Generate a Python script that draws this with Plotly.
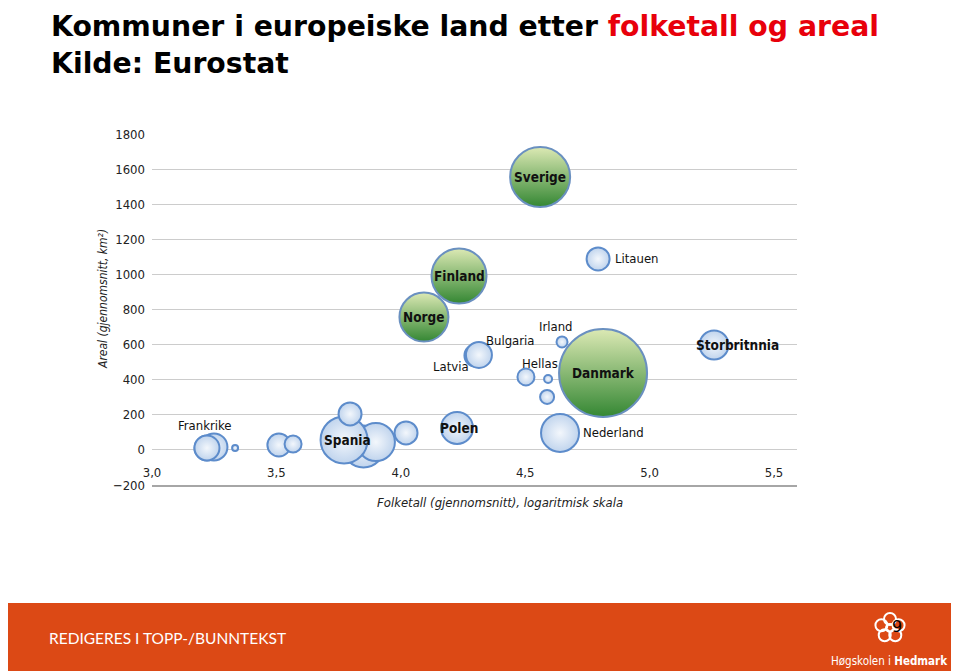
import math
import plotly.graph_objects as go

# ---------------- data ----------------
# log10 of average municipality population, average area (km2), bubble size
blue_names = ["", "", "", "", "Spania", "", "", "", "", "Frankrike", "",
              "Polen", "Latvia", "Bulgaria", "Irland", "Hellas", "", "",
              "Nederland", "Litauen", "Storbritnnia"]
blue_pop_log = [3.85, 3.90, 3.221, 3.334, 3.772, 3.796, 3.510, 3.567, 4.021,
                3.249, 3.221,
                4.226, 4.300, 4.314, 4.648, 4.503, 4.592, 4.588,
                4.640, 4.793, 5.259]
blue_area = [20, 45, 11, 11, 57, 205, 28, 34, 97,
             17, 11,
             125, 538, 541, 615, 416, 404, 302,
             97, 1088, 598]
blue_size = [42, 38, 25, 6, 47, 23, 23, 17, 23,
             27, 25,
             32, 22, 26, 11, 17, 8, 14,
             38, 23, 29]

green_names = ["Norge", "Finland", "Sverige", "Danmark"]
green_pop_log = [4.093, 4.234, 4.56, 4.813]
green_area = [757, 991, 1555, 438]
green_size = [49, 55, 60, 88]

y_ticks = [-200, 0, 200, 400, 600, 800, 1000, 1200, 1400, 1600, 1800]
x_ticks = [3.0, 3.5, 4.0, 4.5, 5.0, 5.5]
x_ticklabels = ["3,0", "3,5", "4,0", "4,5", "5,0", "5,5"]

# label styling (offsets in px relative to bubble centre)
label_style = {
    "Sverige": (0, 0, True), "Finland": (0, 0, True), "Norge": (0, 0, True),
    "Danmark": (0, 0, True), "Polen": (2, 0, True), "Spania": (3, 0, True),
    "Storbritnnia": (23, 0, True),
    "Litauen": (39, 0, False), "Nederland": (53, 0, False),
    "Irland": (-6, 15, False), "Bulgaria": (32, 14, False),
    "Latvia": (-24, -11, False), "Hellas": (14, 13, False),
    "Frankrike": (-9, 21, False),
}

FONT = "DejaVu Sans Condensed, Liberation Sans Narrow, sans-serif"
# page body has an 8px margin: figure occupies (8,8)-(959,671)
OFF = 8
W, H = 959 - OFF, 671 - OFF
L, R, T, B = 152, 797, 134, 485   # plot area in page pixels


def px2x(px):
    return (px - L) / (R - L)


def py2y(py):
    return (B - py) / (B - T)


fig = go.Figure()

fig.add_trace(go.Scatter(
    x=blue_pop_log, y=blue_area, mode="markers", hoverinfo="skip",
    marker=dict(size=blue_size, sizemode="diameter",
                color="#c0d4ed",
                gradient=dict(type="radial", color="#f3f7fc"),
                line=dict(color="#5d8ccb", width=2), opacity=1),
    showlegend=False))

fig.add_trace(go.Scatter(
    x=green_pop_log, y=green_area, mode="markers", hoverinfo="skip",
    marker=dict(size=green_size, sizemode="diameter",
                color="#dce9b4",
                gradient=dict(type="vertical", color="#348733"),
                line=dict(color="#6a90c0", width=2), opacity=1),
    showlegend=False))

annotations = []
for names, xs, ys in [(blue_names, blue_pop_log, blue_area),
                      (green_names, green_pop_log, green_area)]:
    for n, xv, yv in zip(names, xs, ys):
        if not n:
            continue
        dx, dy, bold = label_style[n]
        annotations.append(dict(
            x=xv, y=yv, xref="x", yref="y", text=f"<b>{n}</b>" if bold else n,
            showarrow=False, xshift=dx, yshift=dy, xanchor="center", yanchor="middle",
            font=dict(family=FONT, size=13.5 if bold else 13, color="#111111")))

# axis titles
annotations.append(dict(
    x=px2x(103), y=py2y(299), xref="paper", yref="paper", textangle=-90,
    text="<i>Areal (gjennomsnitt, km²)</i>", showarrow=False,
    xanchor="center", yanchor="middle",
    font=dict(family=FONT, size=12, color="#222222")))
annotations.append(dict(
    x=px2x(500), y=py2y(502), xref="paper", yref="paper",
    text="<i>Folketall (gjennomsnitt), logaritmisk skala</i>", showarrow=False,
    xanchor="center", yanchor="middle",
    font=dict(family=FONT, size=13, color="#222222")))

# title
annotations.append(dict(
    x=px2x(49), y=py2y(OFF), xref="paper", yref="paper", xanchor="left", yanchor="top",
    align="left", showarrow=False,
    text="<b>Kommuner i europeiske land etter <span style='color:#e8000b'>folketall og areal</span></b>"
         "<br><b>Kilde: Eurostat</b>",
    font=dict(family="DejaVu Sans, Verdana, sans-serif", size=28.3, color="#000000")))

# footer
annotations.append(dict(
    x=px2x(47), y=py2y(638), xref="paper", yref="paper", xanchor="left", yanchor="middle",
    showarrow=False, text="REDIGERES I TOPP-/BUNNTEKST",
    font=dict(family="Lato, Open Sans, sans-serif", size=15.5, color="#ffffff")))
annotations.append(dict(
    x=px2x(890), y=py2y(661), xref="paper", yref="paper", xanchor="center", yanchor="middle",
    showarrow=False, text="Høgskolen i <b>Hedmark</b>",
    font=dict(family=FONT, size=11.5, color="#ffffff")))
annotations.append(dict(
    x=px2x(897), y=py2y(626), xref="paper", yref="paper", xanchor="center", yanchor="middle",
    showarrow=False, text="9",
    font=dict(family="DejaVu Sans, sans-serif", size=16, color="#000000")))

shapes = [dict(type="rect", xref="paper", yref="paper",
               x0=px2x(0), x1=px2x(962), y0=py2y(603), y1=py2y(674),
               fillcolor="#dc4915", line=dict(width=0), layer="below")]
# simple logo: ring of small white circles
cx, cy = 890, 628
for k in range(5):
    ang = math.pi / 2 + k * 2 * math.pi / 5
    ox, oy = cx + 9 * math.cos(ang), cy - 9 * math.sin(ang)
    shapes.append(dict(type="circle", xref="paper", yref="paper",
                       x0=px2x(ox - 6), x1=px2x(ox + 6), y0=py2y(oy + 6), y1=py2y(oy - 6),
                       line=dict(color="#ffffff", width=2), fillcolor="rgba(0,0,0,0)"))
shapes.append(dict(type="circle", xref="paper", yref="paper",
                   x0=px2x(cx - 4), x1=px2x(cx + 4), y0=py2y(cy + 4), y1=py2y(cy - 4),
                   line=dict(color="#ffffff", width=2), fillcolor="rgba(0,0,0,0)"))

fig.update_layout(
    width=W, height=H,
    margin=dict(l=L - OFF, r=959 - R, t=T - OFF, b=671 - B, pad=0),
    paper_bgcolor="#ffffff", plot_bgcolor="#ffffff",
    annotations=annotations, shapes=shapes,
    xaxis=dict(range=[3.0, 3.0 + (R - L) / 248.8], tickvals=x_ticks, ticktext=x_ticklabels,
               ticklabelposition="inside", ticklabeloverflow="allow", ticks="",
               ticklabelstandoff=5,
               showgrid=False, zeroline=False, showline=True,
               linecolor="#a6a6a6", linewidth=2,
               tickfont=dict(family=FONT, size=13, color="#222222")),
    yaxis=dict(range=[-200, 1800], tickvals=y_ticks, showgrid=True,
               gridcolor="#cccccc", gridwidth=1, zeroline=False, showline=False,
               ticks="", ticklabelstandoff=6,
               tickfont=dict(family=FONT, size=13, color="#222222")),
)

fig.write_html("out.html")
